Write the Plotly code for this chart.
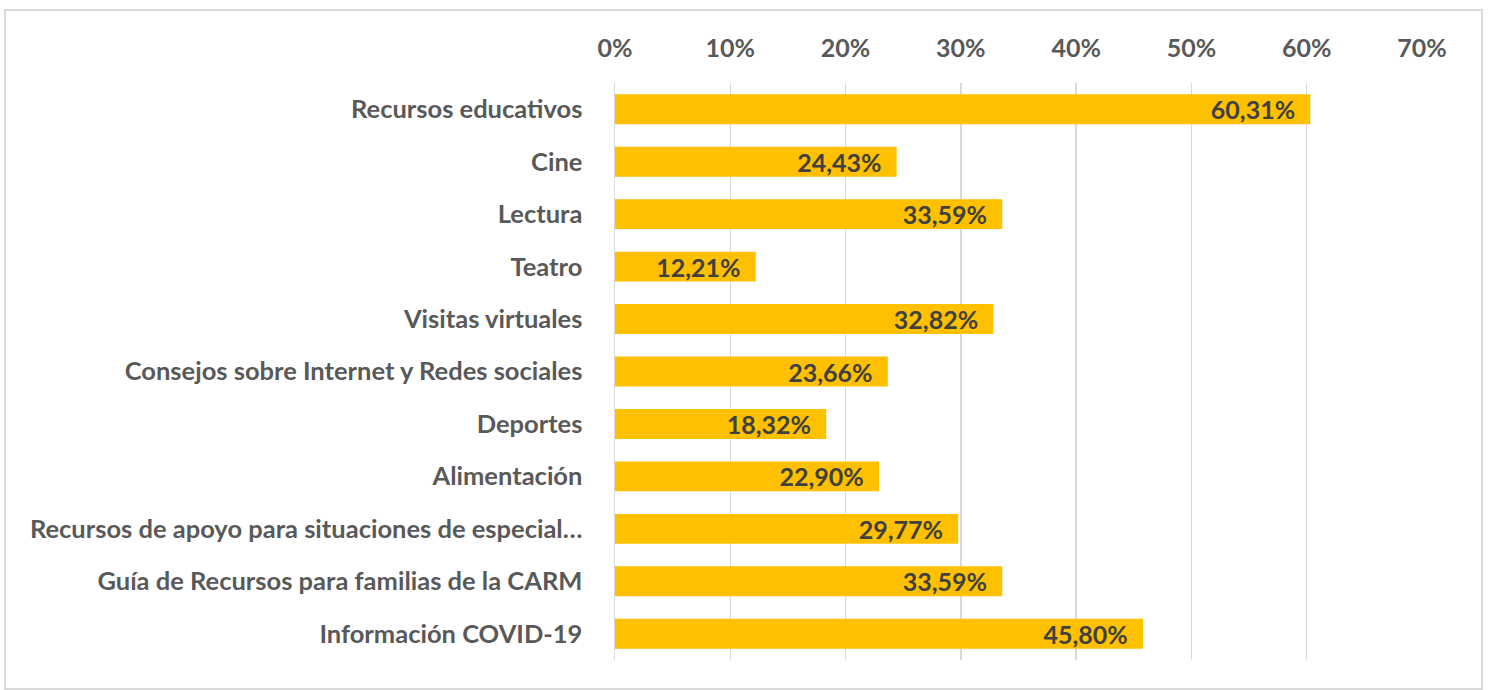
import plotly.graph_objects as go

categories = [
    "Recursos educativos",
    "Cine",
    "Lectura",
    "Teatro",
    "Visitas virtuales",
    "Consejos sobre Internet y Redes sociales",
    "Deportes",
    "Alimentación",
    "Recursos de apoyo para situaciones de especial…",
    "Guía de Recursos para familias de la CARM",
    "Información COVID-19",
]
values = [0.6031, 0.2443, 0.3359, 0.1221, 0.3282, 0.2366, 0.1832, 0.2290, 0.2977, 0.3359, 0.4580]
tick_vals = [0, 0.1, 0.2, 0.3, 0.4, 0.5, 0.6, 0.7]

W, H = 1488, 690
L, R, T, B = 615, 66, 83, 30
pw, ph = W - L - R, H - T - B

def px(x):
    return (x - L) / pw

def py(y):
    return 1 - (y - T) / ph

FONT = "Lato"

fig = go.Figure(
    go.Bar(
        x=values,
        y=categories,
        orientation="h",
        marker=dict(color="#FFC000", line=dict(width=0)),
        texttemplate="%{x:.2%}\u00a0\u00a0",
        textposition="inside",
        insidetextanchor="end",
        constraintext="none",
        textangle=0,
        textfont=dict(family=FONT, size=25, color="#404040", weight="bold"),
        cliponaxis=False,
        hoverinfo="skip",
    )
)

fig.update_layout(
    width=W,
    height=H,
    margin=dict(l=L, r=R, t=T, b=B, autoexpand=False),
    paper_bgcolor="white",
    plot_bgcolor="white",
    separators=",.",
    bargap=0.43,
    showlegend=False,
    shapes=[
        dict(
            type="rect", xref="paper", yref="paper",
            x0=px(5), x1=px(1482), y0=py(689), y1=py(10),
            line=dict(color="#D9D9D9", width=2), fillcolor="rgba(0,0,0,0)",
            layer="below",
        )
    ],
)

fig.update_xaxes(
    side="top",
    range=[0, 0.7],
    tickvals=tick_vals,
    tickformat=".0%",
    showgrid=True,
    gridcolor="#D9D9D9",
    gridwidth=1.5,
    zeroline=False,
    showline=False,
    ticks="",
    ticklabelstandoff=20,
    tickfont=dict(family=FONT, size=25, color="#595959", weight="bold"),
    fixedrange=True,
)

fig.update_yaxes(
    autorange="reversed",
    showgrid=False,
    showline=True,
    linecolor="#D9D9D9",
    linewidth=1.5,
    ticks="",
    ticklabelstandoff=26,
    tickfont=dict(family=FONT, size=25.5, color="#595959", weight="bold"),
    fixedrange=True,
)

fig.write_html(
    "out.html",
    config={"displayModeBar": False, "staticPlot": True},
    post_script="document.body.style.margin='0';document.body.style.overflow='hidden';",
)
